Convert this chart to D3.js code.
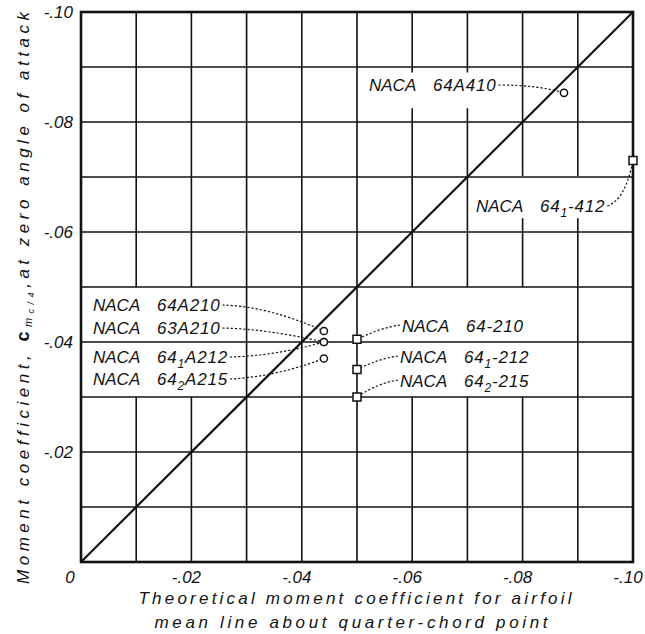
<!DOCTYPE html>
<html>
<head>
<meta charset="utf-8">
<script src="https://cdn.jsdelivr.net/npm/d3@7"></script>
<style>
  body { margin: 0; background: #fff; }
  text { font-family: "Liberation Sans", Arial, sans-serif; font-style: italic; fill: #111; }
</style>
</head>
<body>
<svg id="chart" width="645" height="634"></svg>
<script>
// Axis ticks
const xTickValues = [0, -0.02, -0.04, -0.06, -0.08, -0.10];
const xTickLabels = ["0", "-.02", "-.04", "-.06", "-.08", "-.10"];
const yTickValues = [-0.02, -0.04, -0.06, -0.08, -0.10];
const yTickLabels = ["-.02", "-.04", "-.06", "-.08", "-.10"];
const gridValues = [-0.01, -0.02, -0.03, -0.04, -0.05, -0.06, -0.07, -0.08, -0.09];

// NACA 6-series airfoils with a-mean lines (circles)
const circleNames    = ["NACA 64A410", "NACA 64A210", "NACA 63A210", "NACA 64_1A212", "NACA 64_2A215"];
const circleTheory   = [-0.0875, -0.044, -0.044, -0.044, -0.044];
const circleMeasured = [-0.0853, -0.042, -0.040, -0.040, -0.037];

// NACA 6-series airfoils with uniform-load mean lines (squares)
const squareNames    = ["NACA 64_1-412", "NACA 64-210", "NACA 64_1-212", "NACA 64_2-215"];
const squareTheory   = [-0.100, -0.050, -0.050, -0.050];
const squareMeasured = [-0.073, -0.0405, -0.035, -0.030];

const svg = d3.select("#chart");
const m = { left: 81, top: 12, right: 633, bottom: 562 };

const x = d3.scaleLinear().domain([0, -0.10]).range([m.left, m.right]);
const y = d3.scaleLinear().domain([0, -0.10]).range([m.bottom, m.top]);

// Grid segments interrupted where the labels sit
const gaps = [
  { x: -0.01, y0: -0.05, y1: -0.03 }, { x: -0.02, y0: -0.05, y1: -0.03 },
  { x: -0.06, y0: -0.05, y1: -0.03 }, { x: -0.07, y0: -0.05, y1: -0.03 }, { x: -0.08, y0: -0.05, y1: -0.03 },
  { x: -0.06, y0: -0.089, y1: -0.0825 }, { x: -0.07, y0: -0.089, y1: -0.0825 },
  { x: -0.08, y0: -0.0702, y1: -0.0625 }, { x: -0.09, y0: -0.0702, y1: -0.0625 }
];

const grid = svg.append("g").attr("stroke", "#111").attr("stroke-width", 1.6);
gridValues.forEach(v => {
  // vertical line split around gaps
  const gs = gaps.filter(g => g.x === v).sort((a, b) => b.y0 - a.y0);
  let start = 0;
  gs.forEach(g => {
    grid.append("line").attr("x1", x(v)).attr("x2", x(v)).attr("y1", y(start)).attr("y2", y(g.y1));
    start = g.y0;
  });
  grid.append("line").attr("x1", x(v)).attr("x2", x(v)).attr("y1", y(start)).attr("y2", y(-0.10));
  // horizontal line
  grid.append("line").attr("x1", x(0)).attr("x2", x(-0.10)).attr("y1", y(v)).attr("y2", y(v));
});

// Frame
svg.append("rect")
  .attr("x", m.left).attr("y", m.top)
  .attr("width", m.right - m.left).attr("height", m.bottom - m.top)
  .attr("fill", "none").attr("stroke", "#111").attr("stroke-width", 2.6);

// Line of agreement
svg.append("line")
  .attr("x1", x(0)).attr("y1", y(0)).attr("x2", x(-0.10)).attr("y2", y(-0.10))
  .attr("stroke", "#111").attr("stroke-width", 2.2);

// Tick labels
svg.append("g").selectAll("text").data(xTickValues).join("text")
  .attr("x", (d, i) => i === 0 ? x(d) - 11 : x(d) - 5)
  .attr("y", 583)
  .attr("text-anchor", "middle")
  .attr("font-size", 17)
  .text((d, i) => xTickLabels[i]);

svg.append("g").selectAll("text").data(yTickValues).join("text")
  .attr("x", 73)
  .attr("y", d => y(d) + 6)
  .attr("text-anchor", "end")
  .attr("font-size", 17)
  .text((d, i) => yTickLabels[i]);

// Axis titles
svg.append("text").attr("x", 355).attr("y", 604).attr("text-anchor", "middle")
  .attr("font-size", 17).attr("textLength", 433).attr("lengthAdjust", "spacing")
  .text("Theoretical moment coefficient for airfoil");
svg.append("text").attr("x", 351).attr("y", 628).attr("text-anchor", "middle")
  .attr("font-size", 17).attr("textLength", 393).attr("lengthAdjust", "spacing")
  .text("mean line about quarter-chord point");

const yt = svg.append("text")
  .attr("transform", "translate(29,298) rotate(-90)")
  .attr("text-anchor", "middle").attr("font-size", 17)
  .attr("textLength", 572).attr("lengthAdjust", "spacing");
yt.append("tspan").text("Moment coefficient, ");
yt.append("tspan").attr("font-weight", "bold").attr("font-style", "normal").attr("font-size", 18).text("c");
yt.append("tspan").attr("font-size", 11).attr("dy", 3).text("m");
yt.append("tspan").attr("font-size", 9).attr("dy", 2).text("c/4");
yt.append("tspan").attr("dy", -5).text(",at zero angle of attack");

// Label layout: text start x, baseline y, leader side and curvature
const labelLayout = {
  "NACA 64A410":   { tx: 369, ty: 91,  from: "end",   ctrl: [40, 0] },
  "NACA 64A210":   { tx: 93,  ty: 311, from: "end",   ctrl: [45, 1] },
  "NACA 63A210":   { tx: 93,  ty: 334, from: "end",   ctrl: [45, 1] },
  "NACA 64_1A212": { tx: 93,  ty: 363, from: "end",   ctrl: [45, -1] },
  "NACA 64_2A215": { tx: 93,  ty: 385, from: "end",   ctrl: [45, -2] },
  "NACA 64_1-412": { tx: 476, ty: 212, from: "end",   ctrl: [18, -6] },
  "NACA 64-210":   { tx: 402, ty: 332, from: "start", ctrl: [-20, 3] },
  "NACA 64_1-212": { tx: 400, ty: 363, from: "start", ctrl: [-20, 3] },
  "NACA 64_2-215": { tx: 400, ty: 387, from: "start", ctrl: [-20, 3] }
};

const points = [
  ...circleNames.map((n, i) => ({ name: n, tx: circleTheory[i], my: circleMeasured[i], shape: "circle" })),
  ...squareNames.map((n, i) => ({ name: n, tx: squareTheory[i], my: squareMeasured[i], shape: "square" }))
];

const labels = svg.append("g");
const leaders = svg.append("g").attr("fill", "none").attr("stroke", "#111")
  .attr("stroke-width", 1.2).attr("stroke-dasharray", "2.2,2");

points.forEach(p => {
  const L = labelLayout[p.name];
  const t = labels.append("text").attr("y", L.ty).attr("font-size", 17);
  const series = p.name.replace("NACA ", "");
  t.append("tspan").attr("x", L.tx).text("NACA");
  const num = t.append("tspan").attr("x", L.tx + 64).attr("letter-spacing", 0.8);
  // "_d" marks a subscript digit; the following run returns to the baseline
  const parts = series.split(/_(\d)/);
  let lowered = false;
  parts.forEach((s, k) => {
    if (!s) return;
    if (k % 2 === 1) {
      num.append("tspan").attr("font-size", 12).attr("dy", 5).text(s);
      lowered = true;
    } else {
      num.append("tspan").attr("dy", lowered ? -5 : 0).text(s);
      lowered = false;
    }
  });
  const bb = t.node().getBBox();
  const px = x(p.tx), py = y(p.my);
  let sx, sy;
  if (L.from === "end") { sx = bb.x + bb.width + 2; sy = L.ty - 6; }
  else { sx = L.tx - 2; sy = L.ty - 7; }
  const cx = sx + L.ctrl[0], cy = sy + L.ctrl[1];
  leaders.append("path").attr("d", `M${sx},${sy} Q${cx},${cy} ${px},${py}`);
});

// Markers
svg.append("g").selectAll("circle").data(points.filter(p => p.shape === "circle")).join("circle")
  .attr("cx", d => x(d.tx)).attr("cy", d => y(d.my)).attr("r", 3.6)
  .attr("fill", "#fff").attr("stroke", "#111").attr("stroke-width", 1.5);

svg.append("g").selectAll("rect").data(points.filter(p => p.shape === "square")).join("rect")
  .attr("x", d => x(d.tx) - 4).attr("y", d => y(d.my) - 4).attr("width", 8).attr("height", 8)
  .attr("fill", "#fff").attr("stroke", "#111").attr("stroke-width", 1.5);
</script>
</body>
</html>
